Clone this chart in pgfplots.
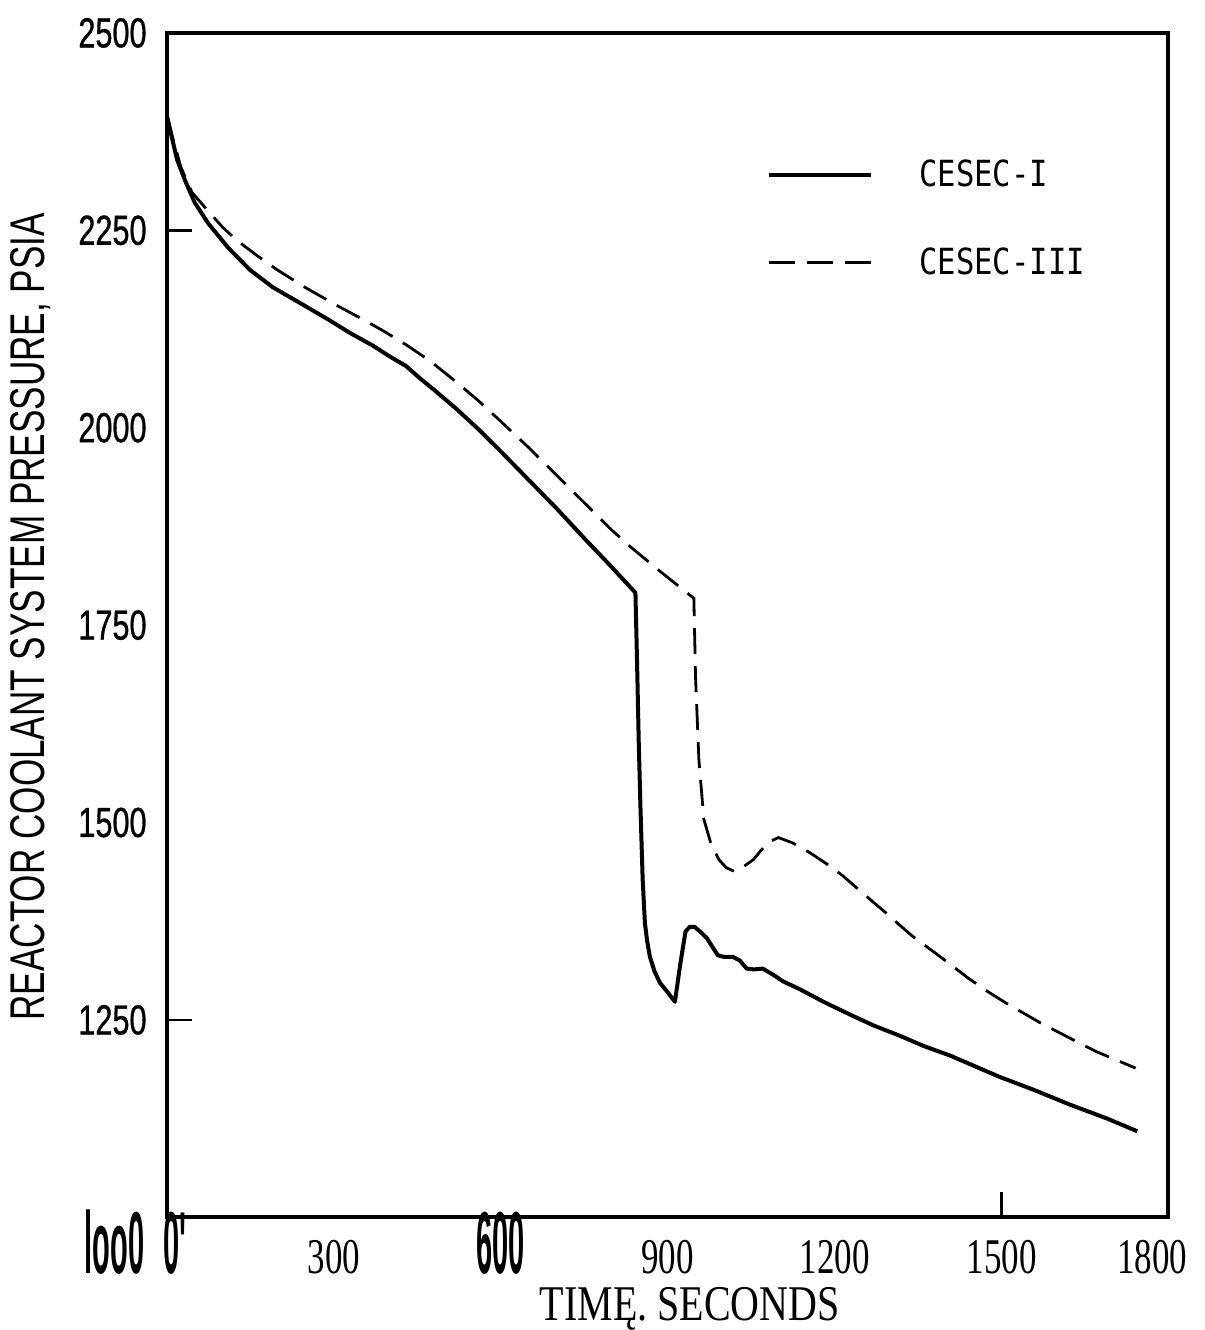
\documentclass[border=0pt]{standalone}
\usepackage{fontspec}
\usepackage{pgfplots}
\pgfplotsset{compat=1.18}
\setmainfont{Liberation Serif}
\newfontfamily\ytf[FakeStretch=0.73,FakeBold=0.8]{Liberation Sans}
\newfontfamily\xtf[FakeStretch=0.7]{Liberation Serif}
\newfontfamily\bcf[FakeStretch=0.33]{Liberation Sans Bold}
\newfontfamily\ylf[FakeStretch=0.72]{Liberation Sans}
\newfontfamily\xlf[FakeStretch=0.8]{Liberation Serif}
\newfontfamily\lgf[FakeStretch=0.85]{DejaVu Sans Mono}

% CESEC-I (solid)
\pgfplotstableread{
t p
0 2395
8 2370
18 2340
32 2314
50 2285
74 2259
110 2228
149 2200
190 2178
239 2158
290 2137
329 2120
370 2104
401 2090
430 2078
454 2063
480 2048
520 2024
560 1998
600 1970
650 1934
700 1898
750 1860
800 1823
842 1791
845 1700
848 1600
851 1520
855 1428
859 1373
863 1350
868 1330
876 1312
886 1297
900 1285
913 1273
922 1318
932 1362
940 1368
948 1368
958 1362
970 1354
980 1343
990 1332
1000 1330
1017 1330
1030 1325
1042 1315
1055 1314
1071 1315
1090 1307
1107 1299
1137 1289
1180 1273
1227 1257
1270 1243
1317 1230
1360 1217
1407 1205
1450 1192
1496 1178
1556 1162
1622 1143
1690 1125
1744 1109
}\cesecone

% CESEC-III (dashed)
\pgfplotstableread{
t p
0 2395
10 2368
25 2330
45 2298
77 2272
100 2254
126 2237
160 2219
198 2200
250 2177
305 2155
350 2138
388 2123
430 2105
472 2085
520 2058
560 2034
600 2008
650 1975
700 1940
750 1905
800 1870
835 1848
890 1816
947 1784
950 1685
956 1580
965 1504
977 1475
992 1453
1005 1443
1020 1438
1038 1445
1054 1453
1068 1465
1081 1475
1099 1481
1125 1474
1155 1462
1185 1448
1214 1433
1240 1417
1268 1400
1295 1384
1317 1370
1340 1356
1367 1342
1405 1322
1440 1303
1475 1286
1509 1271
1568 1247
1620 1228
1670 1210
1741 1189
}\cesecthree

\begin{document}
\begin{tikzpicture}
\begin{axis}[
    scale only axis,
    width=501pt, height=592.5pt,
    xmin=0, xmax=1800,
    ymin=1000, ymax=2500,
    clip=false,
    axis line style={line width=2pt},
    /pgf/number format/assume math mode=true,
    /pgf/number format/1000 sep={},
    xtick={0,300,...,1500},
    xticklabels={{\bcf\fontsize{44}{44}\selectfont\kern8pt 0'},300,{\bcf\fontsize{44}{44}\selectfont 600},900,1200,1500},
    extra x ticks={1800},
    extra x tick labels={1800},
    extra x tick style={xticklabel style={xshift=-8pt}},
    ytick={1250,1500,...,2500},
    extra y ticks={1000},
    extra y tick labels={{\bcf\fontsize{44}{44}\selectfont loo0}},
    extra y tick style={yticklabel style={anchor=base east, yshift=-28pt, xshift=-1pt}},
    major tick length=0pt,
    minor xtick={1500},
    minor ytick={1250,2250},
    minor tick length=12.5pt,
    tick align=inside,
    xtick pos=lower, ytick pos=left,
    minor tick style={line width=1.2pt, black},
    xticklabel style={font=\xtf\fontsize{25}{25}\selectfont, anchor=base, inner sep=0pt, yshift=-28pt},
    yticklabel style={font=\ytf\fontsize{21}{21}\selectfont, inner sep=0pt, xshift=-10pt},
    xlabel={TIMĘ. SECONDS},
    xlabel style={font=\xlf\fontsize{25}{25}\selectfont, inner sep=0pt, at={(axis description cs:0.522,-0.077)}, anchor=center},
    ylabel={REACTOR COOLANT SYSTEM PRESSURE, PSIA},
    ylabel style={font=\ylf\fontsize{24.4}{24.4}\selectfont, inner sep=0pt, at={(axis description cs:-0.136,0.507)}, anchor=center},
    legend cell align=left,
    legend image code/.code={\draw[#1] (0pt,0pt) -- (51pt,0pt);},
    legend style={at={(axis description cs:0.599,0.893)}, anchor=north west,
        draw=none, fill=none, inner sep=0pt, row sep=29pt, column sep=23pt,
        nodes={inner sep=0pt, font=\lgf\fontsize{18}{18}\selectfont}},
]
\addplot[black, line width=2pt, line join=round] table[x=t, y=p] {\cesecone};
\addlegendentry{CESEC-I}
\addplot[black, line width=1.4pt, dash pattern=on 13pt off 6pt] table[x=t, y=p] {\cesecthree};
\addlegendentry{CESEC-III}
\path (rel axis cs:-0.1667,-0.0945) rectangle (rel axis cs:1.0359,1.0278);
\end{axis}
\end{tikzpicture}
\end{document}
